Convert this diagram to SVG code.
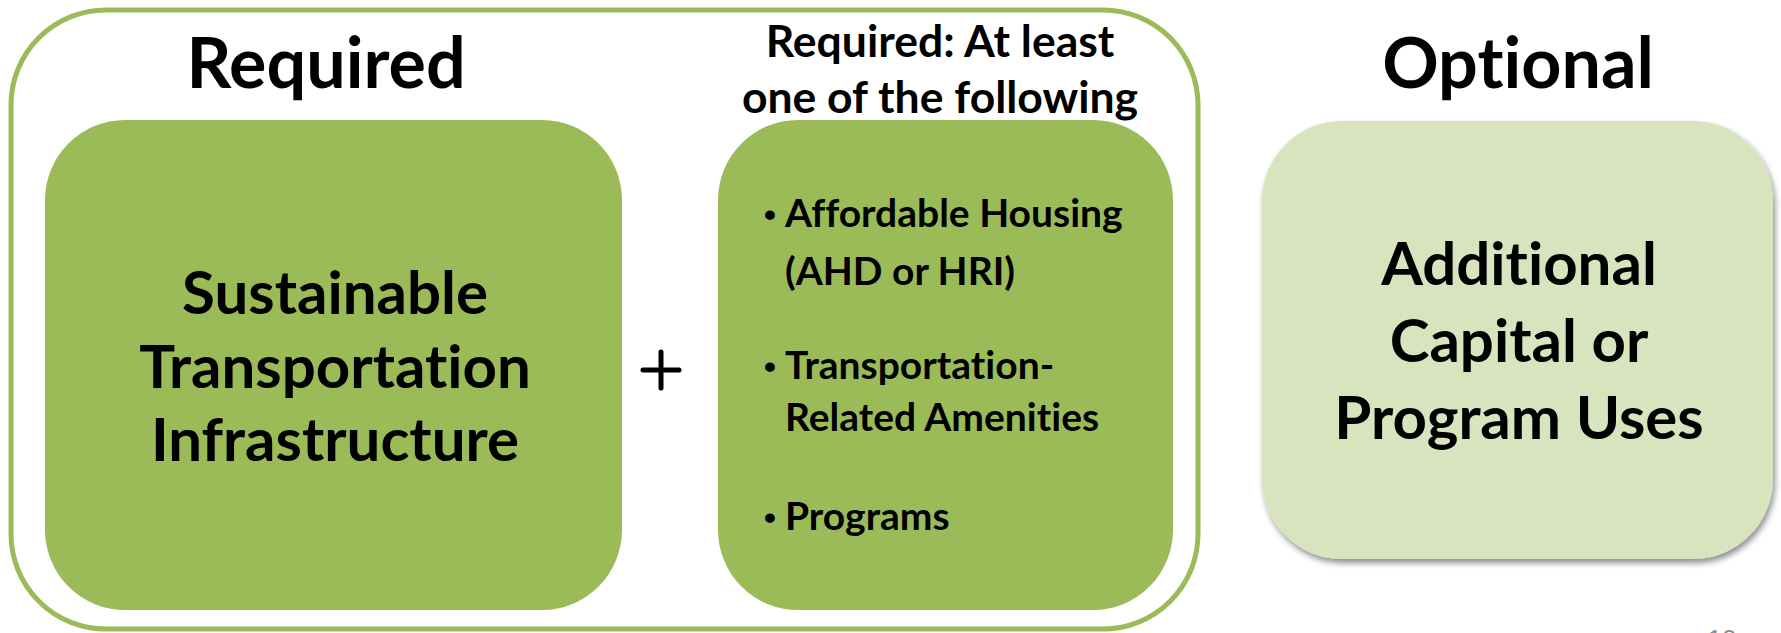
<svg xmlns="http://www.w3.org/2000/svg" width="1781" height="633" viewBox="0 0 1781 633">
<defs>
<style>
.t{font-family:Lato,"Open Sans","Liberation Sans",sans-serif;font-weight:bold;fill:#000;font-variant-ligatures:none;font-feature-settings:"liga" 0}
.big{font-size:70px;text-anchor:middle}
.mid{font-size:60px;text-anchor:middle}
.sub{font-size:44.5px;text-anchor:middle}
.bul{font-size:39px}
.dot{font-family:"Liberation Sans",sans-serif;font-weight:bold;font-size:34px;fill:#000}
.box{fill:#9BBB59}
</style>
<filter id="sh" x="-10%" y="-10%" width="125%" height="125%">
<feGaussianBlur in="SourceAlpha" stdDeviation="3"/>
<feOffset dx="2" dy="4" result="b"/>
<feComponentTransfer><feFuncA type="linear" slope="0.45"/></feComponentTransfer>
<feMerge><feMergeNode/><feMergeNode in="SourceGraphic"/></feMerge>
</filter>
</defs>
<rect width="1781" height="633" fill="#fff"/>
<g id="frame">
<rect x="11" y="10" width="1187" height="619" rx="95" fill="none" stroke="#9BBB59" stroke-width="5"/>
<text class="t big" x="326" y="88">Required</text>
<text class="t sub" x="940" y="57">Required: At least</text>
<text class="t sub" x="940" y="113">one of the following</text>
</g>
<g id="sti">
<rect class="box" x="45" y="120" width="577" height="490" rx="80"/>
<text class="t mid" x="335" y="314">Sustainable</text>
<text class="t mid" x="335" y="388">Transportation</text>
<text class="t mid" x="335" y="461">Infrastructure</text>
</g>
<g id="plus">
<path d="M643 370H679M661 352V388" stroke="#000" stroke-width="5" stroke-linecap="round"/>
</g>
<g id="options">
<rect class="box" x="718" y="120" width="455" height="490" rx="80"/>
<text class="dot" x="764" y="226">•</text>
<text class="t bul" x="785" y="227">Affordable Housing</text>
<text class="t bul" x="785" y="285">(AHD or HRI)</text>
<text class="dot" x="764" y="378">•</text>
<text class="t bul" x="785" y="379">Transportation-</text>
<text class="t bul" x="785" y="431">Related Amenities</text>
<text class="dot" x="764" y="529">•</text>
<text class="t bul" x="785" y="530">Programs</text>
</g>
<g id="optional">
<text class="t big" x="1518" y="88">Optional</text>
<rect x="1262" y="121" width="511" height="438" rx="80" fill="#D7E4BD" filter="url(#sh)"/>
<text class="t mid" x="1519" y="285">Additional</text>
<text class="t mid" x="1519" y="362">Capital or</text>
<text class="t mid" x="1519" y="439">Program Uses</text>
</g>
<g id="connectors"></g>
<text x="1722" y="648" font-family="Liberation Sans,sans-serif" font-size="26" fill="#8C8C8C" text-anchor="middle">10</text>
</svg>
